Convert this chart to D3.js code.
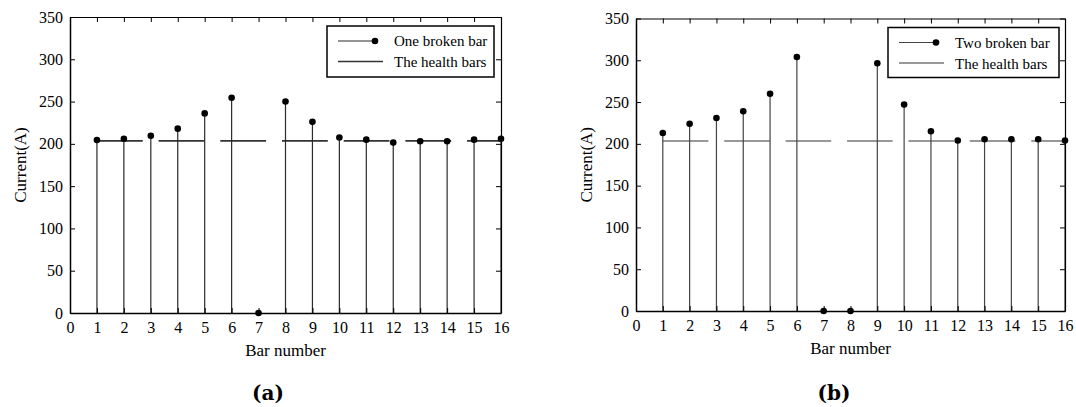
<!DOCTYPE html>
<html>
<head>
<meta charset="utf-8">
<script src="https://cdn.jsdelivr.net/npm/d3@7"></script>
<style>
  body { margin: 0; background: #fff; }
  svg, svg text, .tick text { font-family: "Liberation Serif", "DejaVu Serif", serif !important; fill: #000; }
  .tick text { font-size: 16px; }
  .axis path, .axis line { stroke: #000; }
  .caption { font-family: "DejaVu Serif", serif !important; }
</style>
</head>
<body>
<div id="chart-area"></div>
<script>
// bar numbers 1..16
const bars = [1, 2, 3, 4, 5, 6, 7, 8, 9, 10, 11, 12, 13, 14, 15, 16];

// (a) one broken bar
const oneBroken = [204.5, 206, 209.5, 218, 236, 254.5, 0, 250, 226, 207.5, 205, 201.5, 203, 203, 205, 206];
// (b) two broken bars
const twoBroken = [213, 224, 231, 239, 260, 304, 0, 0, 296.5, 247, 215, 204, 205.5, 205.5, 205.5, 204];

const healthValue = 203.5;
const healthRange = [1, 16];

const xTicks = d3.range(0, 17);
const yTicks = [0, 50, 100, 150, 200, 250, 300, 350];

const svg = d3.select("#chart-area")
  .append("svg")
  .attr("width", 1076)
  .attr("height", 407)
  .attr("font-family", "Liberation Serif, serif");

const panels = [
  {
    left: 70, right: 501, top: 17, bottom: 313, labelX: 26,
    values: oneBroken, name: "One broken bar", caption: "(a)", captionX: 268,
    stemColor: "#2a2a2a", dashColor: "#333",
    legend: { x: 327, y: 26, w: 167, h: 51 }
  },
  {
    left: 636, right: 1065, top: 18.5, bottom: 311, labelX: 592,
    values: twoBroken, name: "Two broken bar", caption: "(b)", captionX: 834,
    stemColor: "#444", dashColor: "#777",
    legend: { x: 888, y: 27.5, w: 171, h: 50 }
  }
];

panels.forEach(drawPanel);

function drawPanel(p) {
  const width = p.right - p.left;
  const height = p.bottom - p.top;

  const g = svg.append("g")
    .attr("transform", `translate(${p.left}, ${p.top})`);

  const x = d3.scaleLinear().domain([0, 16]).range([0, width]);
  const y = d3.scaleLinear().domain([0, 350]).range([height, 0]);

  // health bars: dashed reference line
  const dash = x(1.7) - x(0);
  const gap = x(0.59) - x(0);
  g.append("line")
    .attr("x1", x(healthRange[0]))
    .attr("x2", x(healthRange[1]))
    .attr("y1", y(healthValue))
    .attr("y2", y(healthValue))
    .attr("stroke", p.dashColor)
    .attr("stroke-width", 1.6)
    .attr("stroke-dasharray", `${dash},${gap}`);

  const data = bars.map((b, i) => ({ bar: b, value: p.values[i] }));

  g.selectAll(".stem")
    .data(data)
    .enter()
    .append("line")
    .attr("class", "stem")
    .attr("x1", d => x(d.bar))
    .attr("x2", d => x(d.bar))
    .attr("y1", y(0))
    .attr("y2", d => y(d.value))
    .attr("stroke", p.stemColor)
    .attr("stroke-width", 1.2);

  // axes, ticks inward on all four sides
  g.append("g")
    .attr("class", "axis")
    .attr("transform", `translate(0, ${height})`)
    .call(d3.axisBottom(x).tickValues(xTicks).tickSizeInner(-5).tickSizeOuter(0).tickPadding(9))
    .call(a => a.select(".domain").attr("stroke-width", 1.5));

  g.append("g")
    .attr("class", "axis")
    .call(d3.axisLeft(y).tickValues(yTicks).tickSizeInner(-5).tickSizeOuter(0).tickPadding(7))
    .call(a => a.select(".domain").attr("stroke-width", 1.5));

  g.append("g")
    .attr("class", "axis")
    .call(d3.axisTop(x).tickValues(xTicks).tickSizeInner(-5).tickSizeOuter(0).tickFormat(""))
    .call(a => a.select(".domain").attr("stroke-width", 1.2));

  g.append("g")
    .attr("class", "axis")
    .attr("transform", `translate(${width}, 0)`)
    .call(d3.axisRight(y).tickValues(yTicks).tickSizeInner(-5).tickSizeOuter(0).tickFormat(""))
    .call(a => a.select(".domain").attr("stroke-width", 1.2));

  g.selectAll(".axis").attr("font-family", "Liberation Serif, serif");

  g.selectAll(".dot")
    .data(data)
    .enter()
    .append("circle")
    .attr("class", "dot")
    .attr("cx", d => x(d.bar))
    .attr("cy", d => y(d.value))
    .attr("r", 3.3)
    .attr("fill", "#000");

  // axis labels
  g.append("text")
    .attr("x", width / 2)
    .attr("y", height + 43)
    .attr("text-anchor", "middle")
    .attr("font-size", 17)
    .text("Bar number");

  g.append("text")
    .attr("transform", `translate(${p.labelX - p.left}, ${height / 2}) rotate(-90)`)
    .attr("text-anchor", "middle")
    .attr("font-size", 17)
    .text("Current(A)");

  svg.append("text")
    .attr("class", "caption")
    .attr("x", p.captionX)
    .attr("y", 400)
    .attr("text-anchor", "middle")
    .attr("font-size", 20)
    .attr("font-weight", "bold")
    .text(p.caption);

  // legend
  const L = p.legend;
  const lg = svg.append("g").attr("transform", `translate(${L.x}, ${L.y})`);
  lg.append("rect")
    .attr("width", L.w)
    .attr("height", L.h)
    .attr("fill", "#fff")
    .attr("stroke", "#000")
    .attr("stroke-width", 1.5);

  lg.append("line")
    .attr("x1", 11).attr("x2", 48)
    .attr("y1", 15).attr("y2", 15)
    .attr("stroke", p.stemColor).attr("stroke-width", 1.2);
  lg.append("circle")
    .attr("cx", 48).attr("cy", 15).attr("r", 3.3).attr("fill", "#000");
  lg.append("text")
    .attr("x", 67).attr("y", 20)
    .attr("font-size", 15)
    .text(p.name);

  lg.append("line")
    .attr("x1", 11).attr("x2", 56)
    .attr("y1", 35.5).attr("y2", 35.5)
    .attr("stroke", p.dashColor).attr("stroke-width", 1.4);
  lg.append("text")
    .attr("x", 67).attr("y", 41)
    .attr("font-size", 15)
    .text("The health bars");
}
</script>
</body>
</html>
